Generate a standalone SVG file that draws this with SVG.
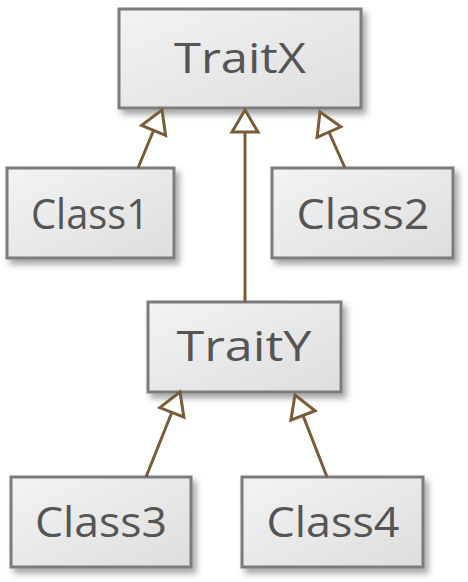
<svg xmlns="http://www.w3.org/2000/svg" width="468" height="582" viewBox="0 0 468 582">
<defs>
<linearGradient id="g" x1="0" y1="0" x2="1" y2="1">
<stop offset="0" stop-color="#f3f3f3"/>
<stop offset="1" stop-color="#dedede"/>
</linearGradient>
<filter id="sh" x="-10%" y="-10%" width="130%" height="140%">
<feDropShadow dx="4" dy="5" stdDeviation="3" flood-color="#000" flood-opacity="0.35"/>
</filter>
<marker id="tri" markerUnits="userSpaceOnUse" markerWidth="32" markerHeight="36" viewBox="-5 -5 32 36" refX="22" refY="13" orient="auto" overflow="visible">
<path d="M0,0 L22,13 L0,26 Z" fill="#fff" stroke="#7a5c38" stroke-width="3" stroke-linejoin="miter"/>
</marker>
</defs>
<style>
.box{fill:url(#g);stroke:#7b7b7b;stroke-width:3;filter:url(#sh)}
.lbl{font-family:"Open Sans","DejaVu Sans",sans-serif;font-size:42px;fill:#555;text-anchor:middle}
.edge{stroke:#7a5c38;stroke-width:3;fill:none;marker-end:url(#tri)}
</style>
<g id="TraitX">
<rect class="box" x="119" y="9" width="242" height="99"/>
<text class="lbl" x="240" y="73" textLength="132" lengthAdjust="spacingAndGlyphs">TraitX</text>
</g>
<g id="Class1">
<rect class="box" x="7" y="168" width="167" height="90"/>
<text class="lbl" x="90" y="229" textLength="118" lengthAdjust="spacingAndGlyphs">Class1</text>
</g>
<g id="Class2">
<rect class="box" x="272" y="168" width="181" height="90"/>
<text class="lbl" x="363" y="229" textLength="133" lengthAdjust="spacingAndGlyphs">Class2</text>
</g>
<g id="TraitY">
<rect class="box" x="148" y="302" width="193" height="90"/>
<text class="lbl" x="244" y="361" textLength="135" lengthAdjust="spacingAndGlyphs">TraitY</text>
</g>
<g id="Class3">
<rect class="box" x="11" y="477" width="180" height="90"/>
<text class="lbl" x="101" y="537" textLength="132" lengthAdjust="spacingAndGlyphs">Class3</text>
</g>
<g id="Class4">
<rect class="box" x="242" y="477" width="181" height="90"/>
<text class="lbl" x="333" y="537" textLength="133" lengthAdjust="spacingAndGlyphs">Class4</text>
</g>
<g id="connectors">
<line class="edge" x1="138" y1="168" x2="162" y2="110"/>
<line class="edge" x1="245" y1="302" x2="245" y2="110"/>
<line class="edge" x1="345" y1="168" x2="320" y2="112"/>
<line class="edge" x1="146" y1="477" x2="180" y2="392"/>
<line class="edge" x1="327" y1="477" x2="295" y2="395"/>
</g>
</svg>
